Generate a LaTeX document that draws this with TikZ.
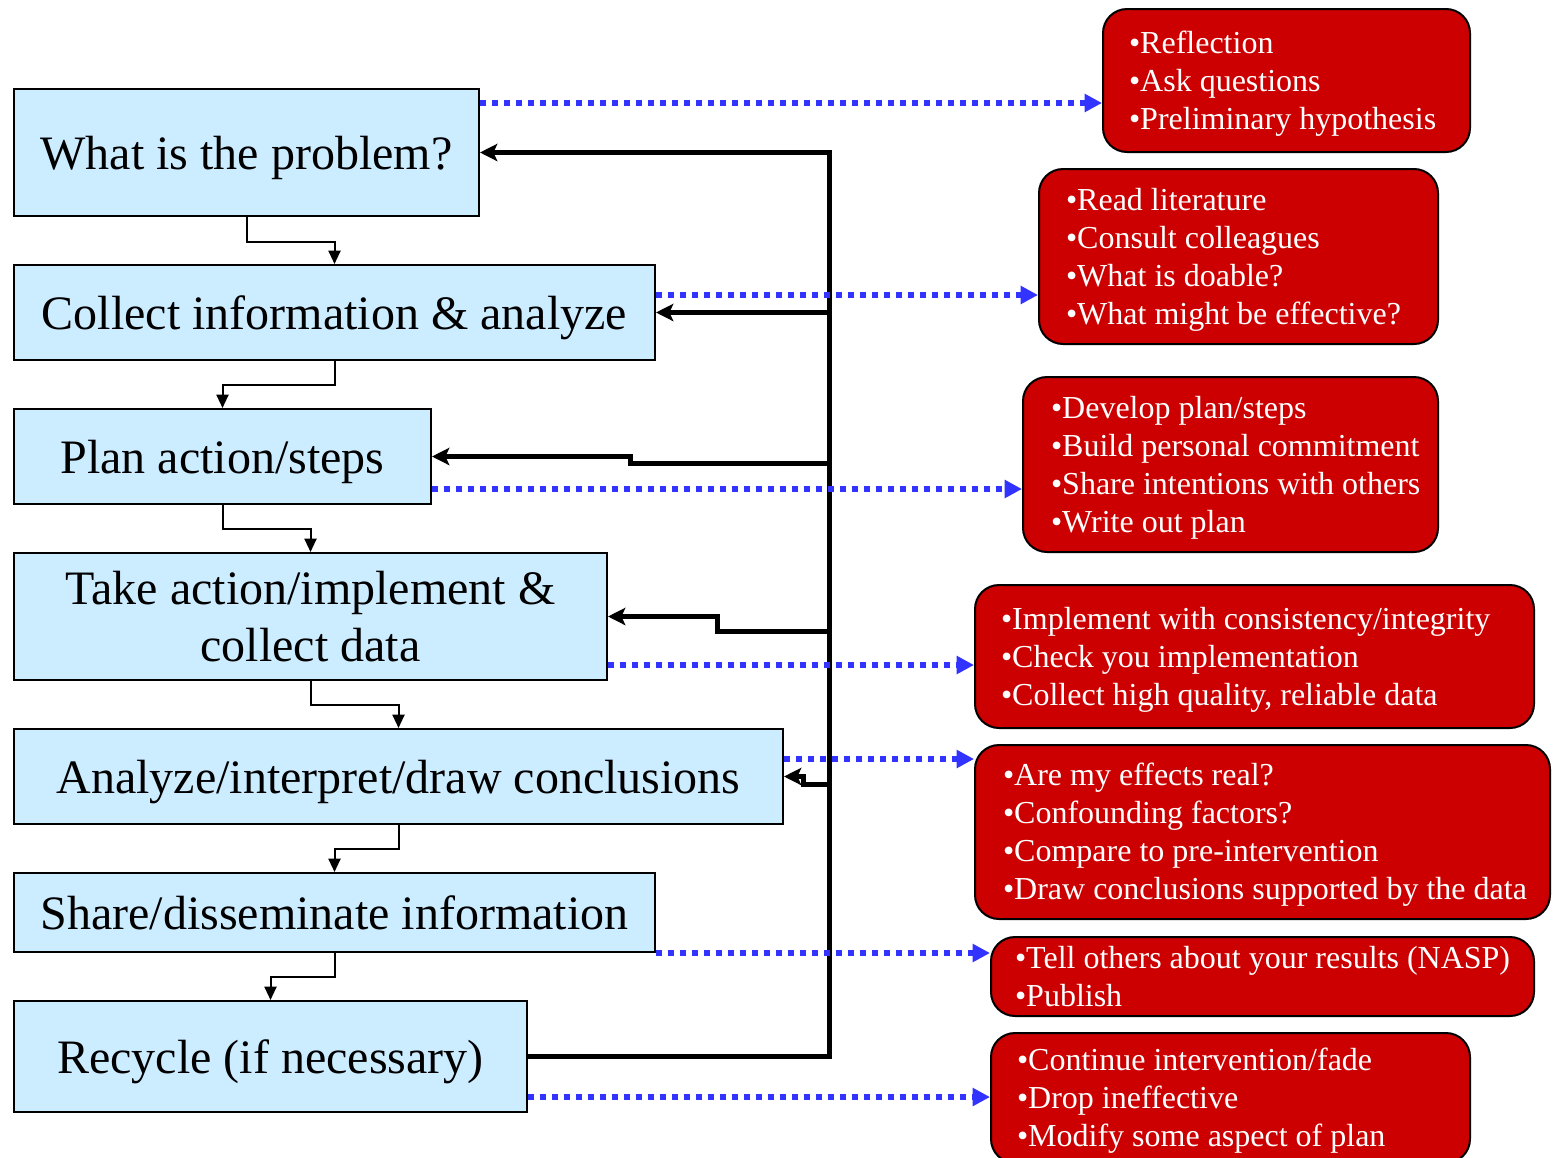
\documentclass[tikz,border=0pt]{standalone}
\usepackage{fontspec}
\setmainfont{Liberation Serif}
\usetikzlibrary{arrows.meta,calc}
\definecolor{boxblue}{HTML}{CCECFF}
\definecolor{boxred}{HTML}{CC0000}
\definecolor{dotblue}{HTML}{3333FF}
\newcommand{\notelines}[2]{\raisebox{-2.5pt}[\height][\depth]{\makebox[#1][l]{\begin{tabular}{@{}l@{}}#2\end{tabular}}}}
\begin{document}
\begin{tikzpicture}[x=0.75pt,y=-0.75pt,
 bluebox/.style={draw=black,line width=1.5pt,fill=boxblue,inner sep=0pt,anchor=north west,align=center,font=\fontsize{36}{43}\selectfont},
 oneline/.style={text depth=0pt},
 redbox/.style={draw=black,line width=1.5pt,fill=boxred,rounded corners=18pt,inner ysep=0pt,anchor=north west,text=white,font=\fontsize{24}{28.5}\selectfont},
 flow/.style={draw=black,line width=1.5pt,-{Triangle[length=10pt,width=9pt]}},
 fb/.style={draw=black,line width=3.75pt,-{Stealth[length=13pt,width=13pt,inset=3pt]}},
 dotarrow/.style={draw=dotblue,line width=4.5pt,dash pattern=on 4.5pt off 4.5pt,-{Triangle[length=13pt,width=13pt]}}]
\useasboundingbox (0,0) rectangle (1553,1157);

% blue process boxes
\node[bluebox,oneline,minimum width=348.75pt,minimum height=95.25pt] (b1) at (13,88) {What is the problem?};
\node[bluebox,oneline,minimum width=480.75pt,minimum height=71.25pt] (b2) at (13,264) {Collect information \& analyze};
\node[bluebox,oneline,minimum width=312.75pt,minimum height=71.25pt] (b3) at (13,408) {Plan action/steps};
\node[bluebox,minimum width=444.75pt,minimum height=95.25pt] (b4) at (13,552) {Take action/implement \&\\collect data};
\node[bluebox,oneline,minimum width=576.75pt,minimum height=71.25pt] (b5) at (13,728) {Analyze/interpret/draw conclusions};
\node[bluebox,oneline,minimum width=480.75pt,minimum height=59.25pt] (b6) at (13,872) {Share/disseminate information};
\node[bluebox,oneline,minimum width=384.75pt,minimum height=83.25pt] (b7) at (13,1000) {Recycle (if necessary)};

% red note boxes
\node[redbox,minimum width=275.25pt,minimum height=107.25pt,inner xsep=19.5pt] (r1) at (1102,8)
  {\notelines{236.25pt}{•Reflection\\•Ask questions\\•Preliminary hypothesis}};
\node[redbox,minimum width=299.25pt,minimum height=131.25pt,inner xsep=20.25pt] (r2) at (1038,168)
  {\notelines{258.75pt}{•Read literature\\•Consult colleagues\\•What is doable?\\•What might be effective?}};
\node[redbox,minimum width=311.25pt,minimum height=131.25pt,inner xsep=21pt] (r3) at (1022,376)
  {\notelines{269.25pt}{•Develop plan/steps\\•Build personal commitment\\•Share intentions with others\\•Write out plan}};
\node[redbox,minimum width=419.25pt,minimum height=107.25pt,inner xsep=19.5pt] (r4) at (974,584)
  {\notelines{380.25pt}{•Implement with consistency/integrity\\•Check you implementation\\•Collect high quality, reliable data}};
\node[redbox,minimum width=431.25pt,minimum height=130.5pt,inner xsep=21pt] (r5) at (974,744)
  {\notelines{389.25pt}{•Are my effects real?\\•Confounding factors?\\•Compare to pre-intervention\\•Draw conclusions supported by the data}};
\node[redbox,minimum width=407.25pt,minimum height=59.25pt,inner xsep=18pt] (r6) at (990,936)
  {\notelines{371.25pt}{•Tell others about your results (NASP)\\•Publish}};
\node[redbox,minimum width=359.25pt,minimum height=97.5pt,inner xsep=19.5pt] (r7) at (990,1032)
  {\notelines{320.25pt}{•Continue intervention/fade\\•Drop ineffective\\•Modify some aspect of plan}};

% flow arrows
\draw[flow] (b1.south) -- ++(0,25) -| (b2.north);
\draw[flow] (b2.south) -- ++(0,24) -| (b3.north);
\draw[flow] (b3.south) -- ++(0,24) -| (b4.north);
\draw[flow] (b4.south) -- ++(0,24) -| (b5.north);
\draw[flow] (b5.south) -- ++(0,24) -| (b6.north);
\draw[flow] (b6.south) -- ++(0,24) -| (b7.north);

% feedback
\coordinate (sp) at (829,0);
\draw[fb] (b7.east) -- (b7.east -| sp) -- (sp |- b1.east) -- (b1.east);
\draw[fb] (sp |- b2.east) -- (b2.east);
\coordinate (j3) at (829,463);
\coordinate (j4) at (829,631);
\coordinate (j5) at (829,784);
\draw[fb] (j3) -- (630,463) |- (b3.east);
\draw[fb] (j4) -- (717,631) |- (b4.east);
\draw[fb] (j5) -- (803,784) |- (b5.east);

% dotted links
\draw[dotarrow] (b1.north east) ++(0,15) coordinate (d1) -- (d1 -| r1.west);
\draw[dotarrow] (b2.north east) ++(0,31) coordinate (d2) -- (d2 -| r2.west);
\draw[dotarrow] (b3.south east) ++(0,-16) coordinate (d3) -- (d3 -| r3.west);
\draw[dotarrow] (b4.south east) ++(0,-16) coordinate (d4) -- (d4 -| r4.west);
\draw[dotarrow] (b5.north east) ++(0,31) coordinate (d5) -- (d5 -| r5.west);
\draw[dotarrow] (b6.south east) coordinate (d6) -- (d6 -| r6.west);
\draw[dotarrow] (b7.south east) ++(0,-16) coordinate (d7) -- (d7 -| r7.west);
\end{tikzpicture}
\end{document}
